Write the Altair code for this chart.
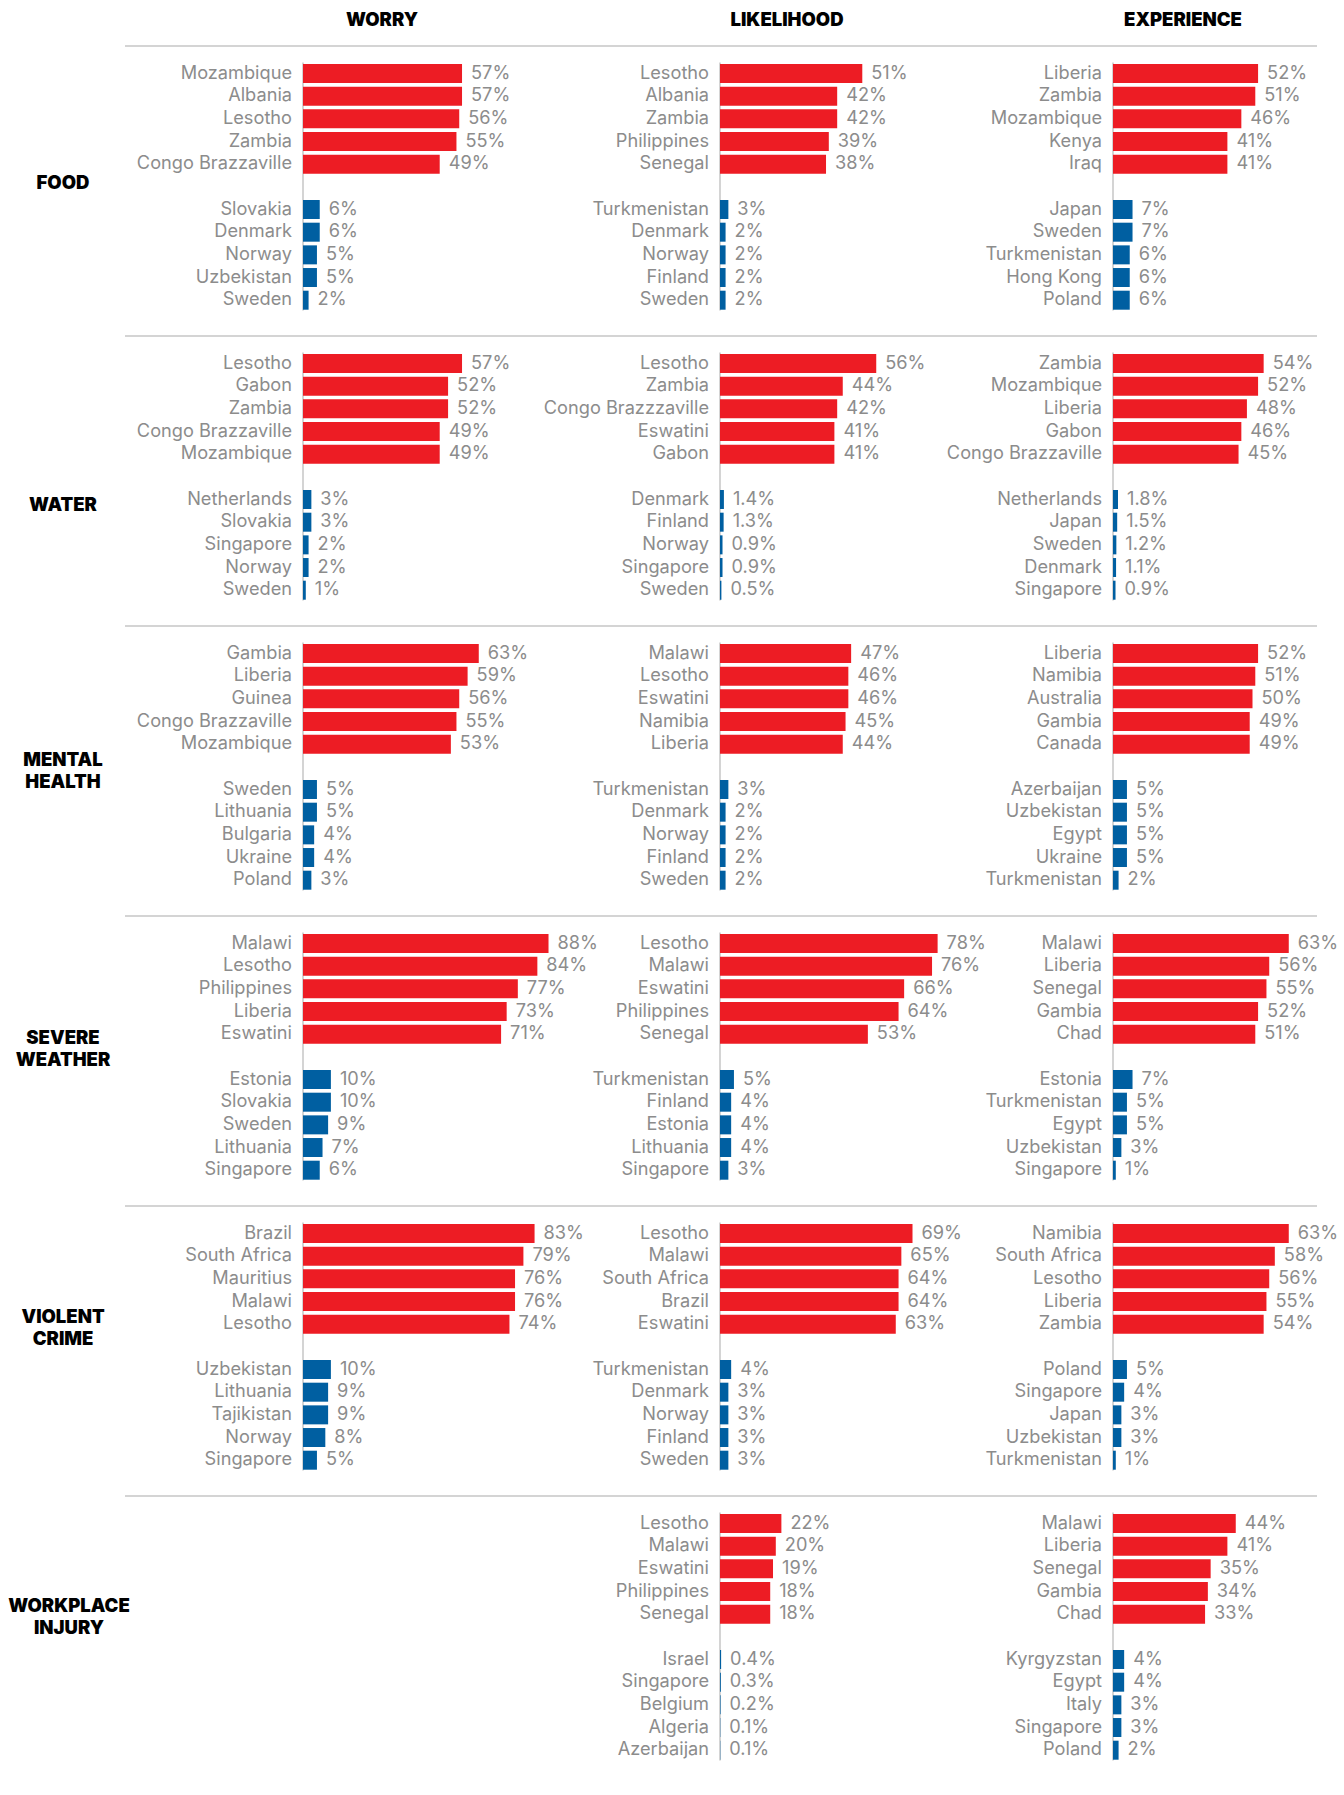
import altair as alt
import pandas as pd

MEASURES = ["WORRY", "LIKELIHOOD", "EXPERIENCE"]
TOPICS = ["FOOD", "WATER", "MENTAL\nHEALTH", "SEVERE\nWEATHER", "VIOLENT\nCRIME", "WORKPLACE\nINJURY"]

# ---- FOOD ----
FOOD_WORRY = [("Mozambique", 57), ("Albania", 57), ("Lesotho", 56), ("Zambia", 55), ("Congo Brazzaville", 49),
              ("Slovakia", 6), ("Denmark", 6), ("Norway", 5), ("Uzbekistan", 5), ("Sweden", 2)]
FOOD_LIKELIHOOD = [("Lesotho", 51), ("Albania", 42), ("Zambia", 42), ("Philippines", 39), ("Senegal", 38),
                   ("Turkmenistan", 3), ("Denmark", 2), ("Norway", 2), ("Finland", 2), ("Sweden", 2)]
FOOD_EXPERIENCE = [("Liberia", 52), ("Zambia", 51), ("Mozambique", 46), ("Kenya", 41), ("Iraq", 41),
                   ("Japan", 7), ("Sweden", 7), ("Turkmenistan", 6), ("Hong Kong", 6), ("Poland", 6)]
# ---- WATER ----
WATER_WORRY = [("Lesotho", 57), ("Gabon", 52), ("Zambia", 52), ("Congo Brazzaville", 49), ("Mozambique", 49),
               ("Netherlands", 3), ("Slovakia", 3), ("Singapore", 2), ("Norway", 2), ("Sweden", 1)]
WATER_LIKELIHOOD = [("Lesotho", 56), ("Zambia", 44), ("Congo Brazzzaville", 42), ("Eswatini", 41), ("Gabon", 41),
                    ("Denmark", 1.4), ("Finland", 1.3), ("Norway", 0.9), ("Singapore", 0.9), ("Sweden", 0.5)]
WATER_EXPERIENCE = [("Zambia", 54), ("Mozambique", 52), ("Liberia", 48), ("Gabon", 46), ("Congo Brazzaville", 45),
                    ("Netherlands", 1.8), ("Japan", 1.5), ("Sweden", 1.2), ("Denmark", 1.1), ("Singapore", 0.9)]
# ---- MENTAL HEALTH ----
MENTAL_WORRY = [("Gambia", 63), ("Liberia", 59), ("Guinea", 56), ("Congo Brazzaville", 55), ("Mozambique", 53),
                ("Sweden", 5), ("Lithuania", 5), ("Bulgaria", 4), ("Ukraine", 4), ("Poland", 3)]
MENTAL_LIKELIHOOD = [("Malawi", 47), ("Lesotho", 46), ("Eswatini", 46), ("Namibia", 45), ("Liberia", 44),
                     ("Turkmenistan", 3), ("Denmark", 2), ("Norway", 2), ("Finland", 2), ("Sweden", 2)]
MENTAL_EXPERIENCE = [("Liberia", 52), ("Namibia", 51), ("Australia", 50), ("Gambia", 49), ("Canada", 49),
                     ("Azerbaijan", 5), ("Uzbekistan", 5), ("Egypt", 5), ("Ukraine", 5), ("Turkmenistan", 2)]
# ---- SEVERE WEATHER ----
WEATHER_WORRY = [("Malawi", 88), ("Lesotho", 84), ("Philippines", 77), ("Liberia", 73), ("Eswatini", 71),
                 ("Estonia", 10), ("Slovakia", 10), ("Sweden", 9), ("Lithuania", 7), ("Singapore", 6)]
WEATHER_LIKELIHOOD = [("Lesotho", 78), ("Malawi", 76), ("Eswatini", 66), ("Philippines", 64), ("Senegal", 53),
                      ("Turkmenistan", 5), ("Finland", 4), ("Estonia", 4), ("Lithuania", 4), ("Singapore", 3)]
WEATHER_EXPERIENCE = [("Malawi", 63), ("Liberia", 56), ("Senegal", 55), ("Gambia", 52), ("Chad", 51),
                      ("Estonia", 7), ("Turkmenistan", 5), ("Egypt", 5), ("Uzbekistan", 3), ("Singapore", 1)]
# ---- VIOLENT CRIME ----
CRIME_WORRY = [("Brazil", 83), ("South Africa", 79), ("Mauritius", 76), ("Malawi", 76), ("Lesotho", 74),
               ("Uzbekistan", 10), ("Lithuania", 9), ("Tajikistan", 9), ("Norway", 8), ("Singapore", 5)]
CRIME_LIKELIHOOD = [("Lesotho", 69), ("Malawi", 65), ("South Africa", 64), ("Brazil", 64), ("Eswatini", 63),
                    ("Turkmenistan", 4), ("Denmark", 3), ("Norway", 3), ("Finland", 3), ("Sweden", 3)]
CRIME_EXPERIENCE = [("Namibia", 63), ("South Africa", 58), ("Lesotho", 56), ("Liberia", 55), ("Zambia", 54),
                    ("Poland", 5), ("Singapore", 4), ("Japan", 3), ("Uzbekistan", 3), ("Turkmenistan", 1)]
# ---- WORKPLACE INJURY ----
INJURY_WORRY = []
INJURY_LIKELIHOOD = [("Lesotho", 22), ("Malawi", 20), ("Eswatini", 19), ("Philippines", 18), ("Senegal", 18),
                     ("Israel", 0.4), ("Singapore", 0.3), ("Belgium", 0.2), ("Algeria", 0.1), ("Azerbaijan", 0.1)]
INJURY_EXPERIENCE = [("Malawi", 44), ("Liberia", 41), ("Senegal", 35), ("Gambia", 34), ("Chad", 33),
                     ("Kyrgyzstan", 4), ("Egypt", 4), ("Italy", 3), ("Singapore", 3), ("Poland", 2)]

GRID = [
    [FOOD_WORRY, FOOD_LIKELIHOOD, FOOD_EXPERIENCE],
    [WATER_WORRY, WATER_LIKELIHOOD, WATER_EXPERIENCE],
    [MENTAL_WORRY, MENTAL_LIKELIHOOD, MENTAL_EXPERIENCE],
    [WEATHER_WORRY, WEATHER_LIKELIHOOD, WEATHER_EXPERIENCE],
    [CRIME_WORRY, CRIME_LIKELIHOOD, CRIME_EXPERIENCE],
    [INJURY_WORRY, INJURY_LIKELIHOOD, INJURY_EXPERIENCE],
]

# ---- style / layout ----
RED = "#ED1C24"
BLUE = "#005FA1"
GRAY = "#8c8c8c"
LINE = "#c6c6c6"
FONT = "Inter"
LABEL_SIZE = 18.2
HEAD_SIZE = 18.5

PX_PER_PCT = 2.79
LABEL_W = 303
PANEL_W = [417, 393, 204]
HEADER_H = 46
ROW_H = 289.4
PITCH = 22.67
BAR_H = 19
FIRST = 27.5
HALF = BAR_H / 2 / PITCH
HEADER_X = [79, 67, 70]  # header centre, relative to each panel's zero line
# row-label placement (first line, in bar-slot units; horizontal in px)
TOPIC_Y = [4.85, 6.25, 4.7, 4.15, 3.7, 3.65]
TOPIC_X = [63, 63, 63, 63, 63, 69]

YSCALE = alt.Scale(domain=[-FIRST / PITCH, (ROW_H - FIRST) / PITCH], reverse=True, nice=False, zero=False)


def panel_df(items):
    rows = []
    for i, (name, v) in enumerate(items):
        pos = i if i < 5 else i + 1
        rows.append({"country": name, "value": v, "label": f"{v}%", "pos": pos,
                     "lo": pos - HALF, "hi": pos + HALF, "group": "top" if i < 5 else "bottom"})
    return pd.DataFrame(rows, columns=["country", "value", "label", "pos", "lo", "hi", "group"])


def make_panel(items, w):
    xs = alt.Scale(domain=[0, w / PX_PER_PCT], nice=False, zero=True)
    if not items:
        return alt.Chart(pd.DataFrame({"z": [0]})).mark_point(opacity=0).encode(
            x=alt.X("z:Q", scale=xs, axis=None),
            y=alt.Y("z:Q", scale=YSCALE, axis=None),
        ).properties(width=w, height=ROW_H)
    df = panel_df(items)
    base = alt.Chart(df)
    rule = alt.Chart(pd.DataFrame({"z": [0]})).mark_rule(color=LINE, strokeWidth=1.5).encode(
        x=alt.X("z:Q", scale=xs, axis=None),
        y=alt.YDatum(-0.48, scale=YSCALE, axis=None),
        y2=alt.datum(10.45),
    )
    bars = base.mark_rect().encode(
        x=alt.X("value:Q", scale=xs, axis=None),
        x2=alt.datum(0),
        y=alt.Y("lo:Q", scale=YSCALE, axis=None),
        y2="hi:Q",
        color=alt.Color("group:N", scale=alt.Scale(domain=["top", "bottom"], range=[RED, BLUE]), legend=None),
    )
    names = base.mark_text(align="right", baseline="middle", dx=-11, font=FONT,
                           fontSize=LABEL_SIZE, color=GRAY).encode(
        x=alt.XDatum(0, scale=xs, axis=None),
        y=alt.Y("pos:Q", scale=YSCALE, axis=None),
        text="country:N",
    )
    vals = base.mark_text(align="left", baseline="middle", dx=9, font=FONT,
                          fontSize=LABEL_SIZE, color=GRAY).encode(
        x=alt.X("value:Q", scale=xs, axis=None),
        y=alt.Y("pos:Q", scale=YSCALE, axis=None),
        text="label:N",
    )
    return alt.layer(rule, bars, names, vals).properties(width=w, height=ROW_H)


def make_label(topic, ty, tx):
    d = alt.Chart(pd.DataFrame({"topic": [topic]}))
    sep = d.mark_rule(color=LINE, strokeWidth=1.5).encode(
        x=alt.value(125), x2=alt.value(LABEL_W + sum(PANEL_W)), y=alt.value(0)
    )
    lab = d.mark_text(font=FONT, fontSize=HEAD_SIZE, fontWeight=900, color="black", align="center",
                      baseline="middle", lineBreak="\n", lineHeight=22).encode(
        x=alt.value(tx),
        y=alt.YDatum(ty, scale=YSCALE, axis=None),
        text="topic:N",
    )
    return alt.layer(sep, lab).properties(width=LABEL_W, height=ROW_H)


def make_header(text, w, cx):
    return alt.Chart(pd.DataFrame({"m": [text]})).mark_text(
        font=FONT, fontSize=HEAD_SIZE, fontWeight=900, color="black", align="center", baseline="middle"
    ).encode(x=alt.value(cx), y=alt.value(20), text="m:N").properties(width=w, height=HEADER_H)


cells = [make_header("", LABEL_W, 0)]
cells += [make_header(m, w, cx) for m, w, cx in zip(MEASURES, PANEL_W, HEADER_X)]
for topic, ty, tx, panels in zip(TOPICS, TOPIC_Y, TOPIC_X, GRID):
    cells.append(make_label(topic, ty, tx))
    cells += [make_panel(items, w) for items, w in zip(panels, PANEL_W)]

chart = alt.concat(*cells, columns=4, spacing=0, bounds="flush").properties(
    padding=0, background="white"
).configure_view(stroke=None)

chart.save("out.html", embed_options={"renderer": "svg", "actions": False})
